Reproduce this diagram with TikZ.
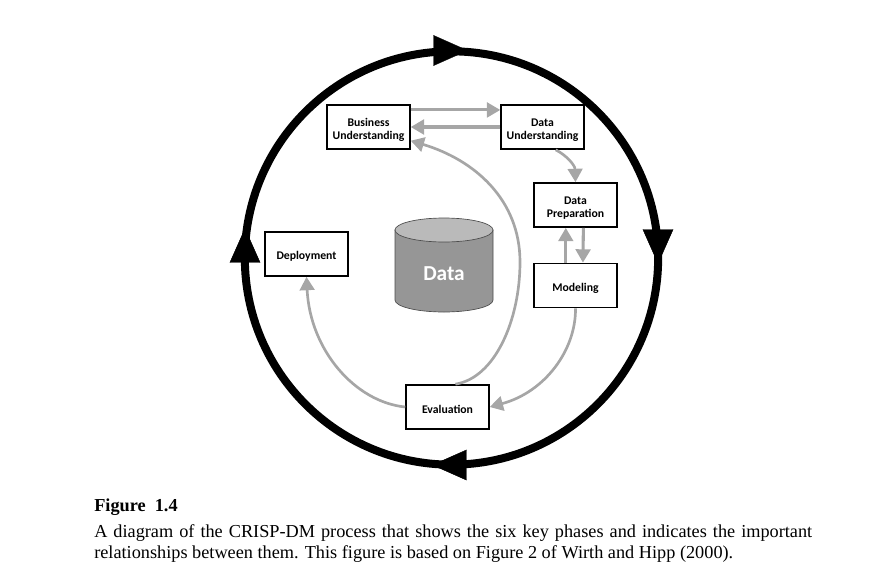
\documentclass[tikz,border=0pt]{standalone}
\usepackage{fontspec}
\setmainfont{Liberation Serif}
\newfontfamily\boxfont{Carlito}
\usetikzlibrary{arrows.meta}
\definecolor{flowgray}{HTML}{A6A6A6}
\tikzset{
  phase/.style={draw, rectangle, line width=1.3pt, fill=white, inner sep=0pt, minimum width=62pt, minimum height=33pt, align=center, font=\boxfont\bfseries\fontsize{8.8}{9.8}\selectfont},
  ringwire/.style={draw, circle, line width=6pt, inner sep=0pt, minimum size=310pt},
  ringtip/.style={line width=.3pt, -{Triangle[length=26pt,width=23pt]}},
  flow/.style={draw=flowgray, line width=2pt, -{Triangle[length=10pt,width=11pt]}},
  flowthick/.style={flow, line width=2.3pt},
  drum/.style={draw=black!70, line width=.5pt},
  caption/.style={anchor=north west, inner sep=0pt, font=\fontsize{13.7}{16}\selectfont}
}
\begin{document}
\begin{tikzpicture}[x=.75pt,y=-.75pt]
    \useasboundingbox (0,0) rectangle (878,579);
    \node[ringwire] (ring) at (451.5,258) {};

    % phases
    \node[phase] (bu) at (368.5,127) {\rule{0pt}{2.5pt}\\[-1.5pt]Business\\Understanding};
    \node[phase] (du) at (542.5,127) {\rule{0pt}{2.5pt}\\[-1.5pt]Data\\Understanding};
    \node[phase] (dp) at (575.5,205) {\rule{0pt}{2.5pt}\\[-1.5pt]Data\\Preparation};
    \node[phase] (mo) at (575.5,285.5) {\rule{0pt}{10pt}Modeling};
    \node[phase] (ev) at (447.5,407) {\rule{0pt}{10pt}Evaluation};
    \node[phase] (de) at (306.5,254) {\rule{0pt}{10pt}Deployment};

    % data drum
    \draw[drum, fill=black!41] (395,230) -- (395,300) arc[x radius=49, y radius=12, start angle=180, end angle=0] -- (493,230) -- cycle;
    \draw[drum, fill=black!27] (444,230) ellipse[x radius=49, y radius=12];
    \node[text=white, font=\boxfont\bfseries\fontsize{16}{18}\selectfont] (data) at (444,274) {Data};

    % outer cycle
    \coordinate (topa) at (430,50.5);
    \coordinate (topb) at (468,50.5);
    \coordinate (rgta) at (658,226);
    \coordinate (rgtb) at (658,264);
    \coordinate (bota) at (470,465);
    \coordinate (botb) at (432,465);
    \coordinate (lfta) at (245,266);
    \coordinate (lftb) at (245,228);
    \draw[ringtip] (topa) -- (topb);
    \draw[ringtip] (rgta) -- (rgtb);
    \draw[ringtip] (bota) -- (botb);
    \draw[ringtip] (lfta) -- (lftb);

    % flows between phases
    \draw[flowthick] (bu.22) -- (du.158);
    \draw[flowthick] (du.west) -- (bu.east);
    \draw[flow] (du.300) .. controls (566,155) and (575,165) .. (dp.north);
    \draw[flowthick] (dp.289) -- (mo.72);
    \draw[flowthick] (mo.113) -- (dp.247);
    \draw[flow] (mo.south) .. controls (576,350) and (545,392) .. (ev.east);
    \draw[flow] (ev.west) .. controls (355,402) and (310,350) .. (de.south);
    \draw[flow] (ev.71) .. controls (495,378) and (520,320) .. (520,262) .. controls (520,200) and (475,160) .. (bu.342);

    % caption
    \node[caption, font=\bfseries\fontsize{13.7}{16}\selectfont] (captitle) at (94,499) {Figure\ \ 1.4};
    \node[caption, text width=538.5pt, align=justify] (captext) at (94,524) {A diagram of the CRISP-DM process that shows the six key phases and indicates the important \mbox{relationships} between them. This figure is based on Figure 2 of Wirth and Hipp (2000).};
\end{tikzpicture}
\end{document}
